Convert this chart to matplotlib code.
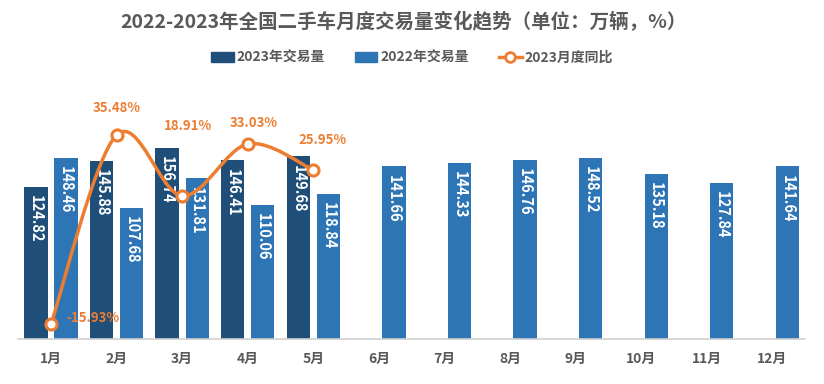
import numpy as np
import matplotlib
matplotlib.use("Agg")
import matplotlib.pyplot as plt
from matplotlib.path import Path
from matplotlib.patches import PathPatch
from matplotlib.lines import Line2D
from matplotlib.patches import Patch

plt.rcParams['font.family'] = ['Noto Sans CJK SC', 'DejaVu Sans']

# data
months = ['1月', '2月', '3月', '4月', '5月', '6月', '7月', '8月', '9月', '10月', '11月', '12月']
vol_2023 = [124.82, 145.88, 156.74, 146.41, 149.68]
vol_2022 = [148.46, 107.68, 131.81, 110.06, 118.84, 141.66, 144.33, 146.76, 148.52, 135.18, 127.84, 141.64]
yoy_2023 = [-15.93, 35.48, 18.91, 33.03, 25.95]

c23 = '#1F4E79'
c22 = '#2E75B6'
corange = '#ED7D31'
cgray = '#595959'

fig = plt.figure(figsize=(8.24, 3.84), dpi=100)
ax = fig.add_axes([0.0221, 0.1172, 0.955, 0.6703])

x = np.arange(len(months))
w = 0.355
off = 0.229
b23 = ax.bar(x[:len(vol_2023)] - off, vol_2023, w, color=c23, zorder=2)
b22 = ax.bar(x + off, vol_2022, w, color=c22, zorder=2)

for bars, vals in ((b23, vol_2023), (b22, vol_2022)):
    for r, v in zip(bars, vals):
        ax.annotate('%.2f' % v, (r.get_x() + r.get_width() / 2, v),
                    xytext=(0, -6), textcoords='offset points',
                    ha='center', va='top', rotation=-90, color='white',
                    fontsize=10.5, fontweight='bold', zorder=3)

ax.set_xlim(-0.5, len(months) - 0.5)
ax.set_ylim(0, 211)
ax.set_xticks(x)
ax.set_xticklabels(months, fontsize=10, fontweight='bold', color=cgray)
ax.tick_params(axis='x', length=0, pad=9)
ax.set_yticks([])
for s in ['top', 'right', 'left']:
    ax.spines[s].set_visible(False)
ax.spines['bottom'].set_color('#D0D0D0')
ax.spines['bottom'].set_linewidth(1.2)

# smoothed yoy line on secondary axis
ax2 = ax.twinx()
ax2.set_ylim(-20, 50)
ax2.set_axis_off()
px = x[:len(yoy_2023)].astype(float)
py = np.array(yoy_2023, dtype=float)
pts = np.column_stack([px, py])
verts = [pts[0]]
codes = [Path.MOVETO]
n = len(pts)
for i in range(n - 1):
    p0 = pts[max(i - 1, 0)]
    p1 = pts[i]
    p2 = pts[i + 1]
    p3 = pts[min(i + 2, n - 1)]
    verts += [p1 + (p2 - p0) / 6.0, p2 - (p3 - p1) / 6.0, p2]
    codes += [Path.CURVE4] * 3
ax2.add_patch(PathPatch(Path(verts, codes), fill=False, edgecolor=corange,
                        linewidth=2.5, zorder=4))
ax2.plot(px, py, linestyle='none', marker='o', markersize=8,
         markerfacecolor='white', markeredgecolor=corange,
         markeredgewidth=2.2, zorder=5)

lbl_off = [(30, 4), (0, 19.5), (4, 50), (4, 15), (7, 21.5)]
for xi, yi, o in zip(px, py, lbl_off):
    ax2.annotate('%.2f%%' % yi, (xi, yi), xytext=o, textcoords='offset points',
                 ha='center', va='center', color=corange, fontsize=9.5,
                 fontweight='bold', zorder=6)

fig.text(0.49, 0.943, '2022-2023年全国二手车月度交易量变化趋势（单位：万辆，%）',
         ha='center', va='center', fontsize=14, fontweight='bold', color=cgray)

handles = [Patch(color=c23, label='2023年交易量'),
           Patch(color=c22, label='2022年交易量'),
           Line2D([0], [0], color=corange, lw=2.5, marker='o', markersize=7,
                  markerfacecolor='white', markeredgecolor=corange,
                  markeredgewidth=2, label='2023月度同比')]
leg = fig.legend(handles=handles, loc='center', bbox_to_anchor=(0.5, 0.849),
                 ncol=3, frameon=False, handlelength=1.6, handleheight=0.7,
                 handletextpad=0.2, columnspacing=2.2,
                 prop={'size': 10, 'weight': 'bold'})
for t in leg.get_texts():
    t.set_color(cgray)

fig.savefig('out.png', dpi=100)
